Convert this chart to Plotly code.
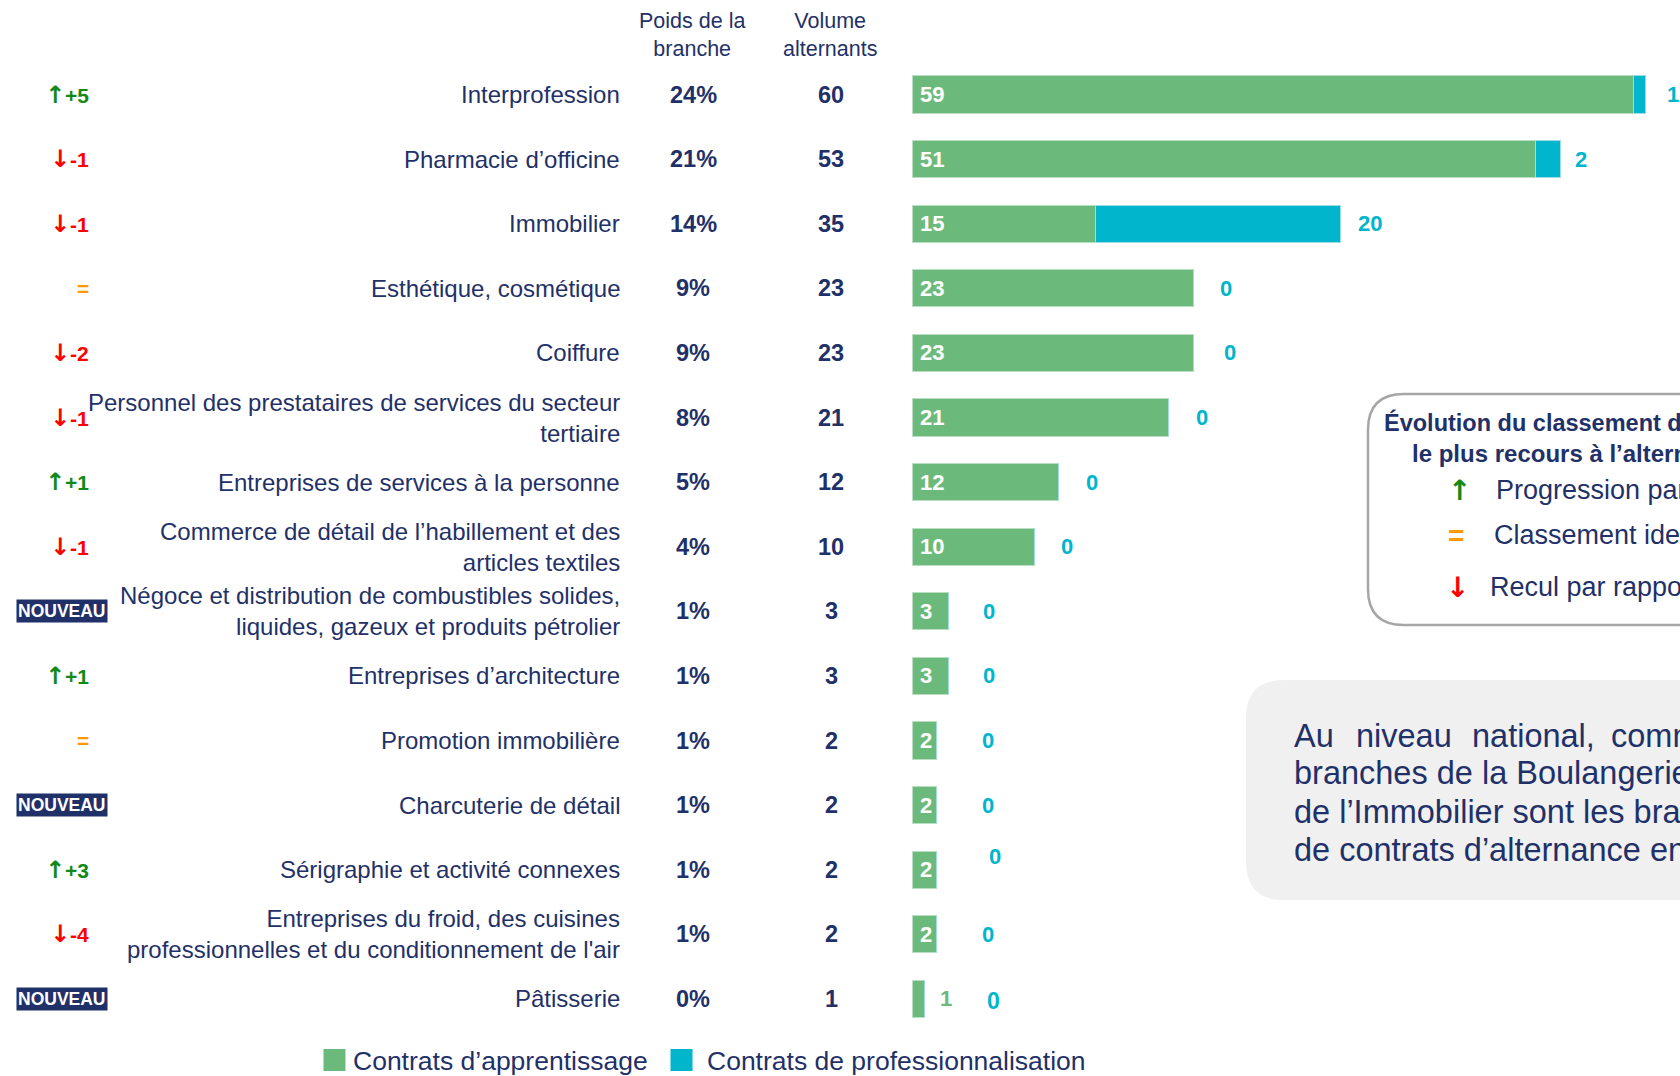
import plotly.graph_objects as go

# ---------------- data ----------------
categories = [
    "Interprofession",
    "Pharmacie d’officine",
    "Immobilier",
    "Esthétique, cosmétique",
    "Coiffure",
    "Personnel des prestataires de services du secteur<br>tertiaire",
    "Entreprises de services à la personne",
    "Commerce de détail de l’habillement et des<br>articles textiles",
    "Négoce et distribution de combustibles solides,<br>liquides, gazeux et produits pétrolier",
    "Entreprises d’architecture",
    "Promotion immobilière",
    "Charcuterie de détail",
    "Sérigraphie et activité connexes",
    "Entreprises du froid, des cuisines<br>professionnelles et du conditionnement de l'air",
    "Pâtisserie",
]
poids_branche = ["24%", "21%", "14%", "9%", "9%", "8%", "5%", "4%", "1%", "1%", "1%", "1%", "1%", "1%", "0%"]
volume_alternants = [60, 53, 35, 23, 23, 21, 12, 10, 3, 3, 2, 2, 2, 2, 1]
contrats_apprentissage = [59, 51, 15, 23, 23, 21, 12, 10, 3, 3, 2, 2, 2, 2, 1]
contrats_professionnalisation = [1, 2, 20, 0, 0, 0, 0, 0, 0, 0, 0, 0, 0, 0, 0]
evolution_classement = ["+5", "-1", "-1", "=", "-2", "-1", "+1", "-1", "NOUVEAU",
                        "+1", "=", "NOUVEAU", "+3", "-4", "NOUVEAU"]
header_poids = "Poids de la<br>branche"
header_volume = "Volume<br>alternants"
legend_names = ["Contrats d’apprentissage", "Contrats de professionnalisation"]
box_title = ["Évolution du classement des branches ayant", "le plus recours à l’alternance"]
box_items = ["Progression par rapport à l’année précédente",
             "Classement identique à l’année précédente",
             "Recul par rapport à l’année précédente"]
comment_line1 = ["Au", "niveau", "national,", "comme"]
comment_lines = ["branches de la Boulangerie",
                 "de l’Immobilier sont les branches",
                 "de contrats d’alternance en"]

# ---------------- style / layout ----------------
W, H = 1680, 1076
FONT = "Liberation Sans, Arial, sans-serif"
ARROW_FONT = "DejaVu Sans, sans-serif"
NAVY = "#1F3168"
GREEN_BAR = "#6BBA7C"
TEAL = "#00B5CC"
UP_GREEN = "#138A17"
DOWN_RED = "#FF0000"
EQ_ORANGE = "#FF9A00"

X0_PX, PX_PER_UNIT = 912.0, 12.23
ROW0_PX, ROW_PX = 94.5, 64.6
# label nudges (pixels) for the professionalisation value labels
pro_label_xshift = [19, 13, 16, 25, 29, 25, 25, 25, 32, 32, 44, 44, 51, 44, 61]
pro_label_yshift = [0, 0, 0, 0, 0, 0, 0, 0, 0, 0, 0, 0, 13, 0, -2]


def px(x):
    return x / W


def py(y):
    return 1 - y / H


fig = go.Figure()
fig.add_bar(
    y=categories, x=contrats_apprentissage, orientation="h", name=legend_names[0],
    marker=dict(color=GREEN_BAR, line=dict(color="#B9DEC1", width=1)),
    width=0.575, showlegend=False, hoverinfo="x+y",
)
fig.add_bar(
    y=categories, x=contrats_professionnalisation, orientation="h", name=legend_names[1],
    marker=dict(color=TEAL, line=dict(color="#9FDDE6", width=1)),
    width=0.575, showlegend=False, hoverinfo="x+y",
)

ann = []
# headers
ann.append(dict(x=px(692), y=py(35), xref="paper", yref="paper", text=header_poids,
                showarrow=False, font=dict(size=21.5, color=NAVY), xanchor="center",
                yanchor="middle", align="center"))
ann.append(dict(x=px(830), y=py(35), xref="paper", yref="paper", text=header_volume,
                showarrow=False, font=dict(size=21.5, color=NAVY), xanchor="center",
                yanchor="middle", align="center"))

for i, cat in enumerate(categories):
    # category label
    ann.append(dict(x=px(621.5), y=cat, xref="paper", yref="y", text=cat, showarrow=False,
                    xanchor="right", yanchor="middle", align="right",
                    font=dict(size=24, color=NAVY)))
    ann.append(dict(x=px(693), y=cat, xref="paper", yref="y", text="<b>%s</b>" % poids_branche[i],
                    showarrow=False, xanchor="center", yanchor="middle",
                    font=dict(size=23.5, color=NAVY)))
    ann.append(dict(x=px(831), y=cat, xref="paper", yref="y", text="<b>%d</b>" % volume_alternants[i],
                    showarrow=False, xanchor="center", yanchor="middle",
                    font=dict(size=23.5, color=NAVY)))
    ev = evolution_classement[i]
    if ev == "NOUVEAU":
        ann.append(dict(x=px(61.5), y=cat, xref="paper", yref="y", text="<b>NOUVEAU</b>",
                        showarrow=False, xanchor="center", yanchor="middle",
                        bgcolor=NAVY, borderpad=1, font=dict(size=17.5, color="white")))
    else:
        if ev.startswith("+"):
            arrow, col = "↑", UP_GREEN
        elif ev.startswith("-"):
            arrow, col = "↓", DOWN_RED
        else:
            arrow, col = "", EQ_ORANGE
        txt = ev
        if arrow:
            txt = '<span style="font-family:DejaVu Sans;font-size:24px">%s</span>' % arrow + txt
        ann.append(dict(x=px(90.5), y=cat, xref="paper", yref="y", text="<b>%s</b>" % txt,
                        showarrow=False, xanchor="right", yanchor="middle",
                        font=dict(size=21, color=col)))
    # apprentissage value
    a = contrats_apprentissage[i]
    if a >= 2:
        ann.append(dict(x=0, y=cat, xref="x", yref="y", text="<b>%d</b>" % a, showarrow=False,
                        xanchor="left", yanchor="middle", xshift=6,
                        font=dict(size=22, color="white")))
    else:
        ann.append(dict(x=a, y=cat, xref="x", yref="y", text="<b>%d</b>" % a, showarrow=False,
                        xanchor="left", yanchor="middle", xshift=14,
                        font=dict(size=22, color=GREEN_BAR)))
    # professionnalisation value
    p = contrats_professionnalisation[i]
    ann.append(dict(x=a + p, y=cat, xref="x", yref="y", text="<b>%d</b>" % p, showarrow=False,
                    xanchor="left", yanchor="middle", xshift=pro_label_xshift[i],
                    yshift=pro_label_yshift[i],
                    font=dict(size=23 if i == len(categories) - 1 else 22, color=TEAL)))

# bottom legend
shapes = []
shapes.append(dict(type="rect", xref="paper", yref="paper", x0=px(323.5), x1=px(345.5),
                   y0=py(1071), y1=py(1049), fillcolor=GREEN_BAR, line=dict(width=0)))
shapes.append(dict(type="rect", xref="paper", yref="paper", x0=px(670.5), x1=px(692.5),
                   y0=py(1071), y1=py(1049), fillcolor=TEAL, line=dict(width=0)))
ann.append(dict(x=px(350.5), y=py(1061), xref="paper", yref="paper", text=legend_names[0],
                showarrow=False, xanchor="left", yanchor="middle",
                font=dict(size=26.5, color=NAVY)))
ann.append(dict(x=px(705), y=py(1061), xref="paper", yref="paper", text=legend_names[1],
                showarrow=False, xanchor="left", yanchor="middle",
                font=dict(size=26.5, color=NAVY)))


def rounded_path(x0, y0, x1, y1, r):
    def P(x, y):
        return "%.5f,%.5f" % (px(x), py(y))
    return ("M %s L %s Q %s %s L %s Q %s %s L %s Q %s %s L %s Q %s %s Z" % (
        P(x0 + r, y0), P(x1 - r, y0), P(x1, y0), P(x1, y0 + r), P(x1, y1 - r),
        P(x1, y1), P(x1 - r, y1), P(x0 + r, y1), P(x0, y1), P(x0, y1 - r),
        P(x0, y0 + r), P(x0, y0), P(x0 + r, y0)))


# legend box (evolution)
shapes.append(dict(type="path", xref="paper", yref="paper",
                   path=rounded_path(1368, 394, 1780, 625, 36),
                   fillcolor="white", line=dict(color="#A6A6A6", width=2.5)))
ann.append(dict(x=px(1382), y=py(423), xref="paper", yref="paper", text="<b>%s</b>" % box_title[0],
                showarrow=False, xanchor="left", yanchor="middle", font=dict(size=23.5, color=NAVY)))
ann.append(dict(x=px(1410), y=py(453), xref="paper", yref="paper", text="<b>%s</b>" % box_title[1],
                showarrow=False, xanchor="left", yanchor="middle", font=dict(size=24, color=NAVY)))
sym = [("↑", UP_GREEN, 1459, 490, ARROW_FONT), ("=", EQ_ORANGE, 1456, 535, FONT),
       ("↓", DOWN_RED, 1457, 587, ARROW_FONT)]
txt_x = [1494, 1492, 1488]
for k, (s, c, sx, sy, f) in enumerate(sym):
    ann.append(dict(x=px(sx), y=py(sy), xref="paper", yref="paper", text="<b>%s</b>" % s,
                    showarrow=False, xanchor="center", yanchor="middle",
                    font=dict(size=28, color=c, family=f)))
    ann.append(dict(x=px(txt_x[k]), y=py(sy), xref="paper", yref="paper", text=box_items[k],
                    showarrow=False, xanchor="left", yanchor="middle",
                    font=dict(size=27, color=NAVY)))

# comment box
shapes.append(dict(type="path", xref="paper", yref="paper",
                   path=rounded_path(1246, 680, 1780, 900, 38),
                   fillcolor="#F0F0F0", line=dict(width=0)))
for wx, w in zip([1292, 1354, 1470, 1609], comment_line1):
    ann.append(dict(x=px(wx), y=py(736), xref="paper", yref="paper", text=w, showarrow=False,
                    xanchor="left", yanchor="middle", font=dict(size=32.5, color=NAVY)))
for ly, line in zip([773, 812, 850], comment_lines):
    ann.append(dict(x=px(1292), y=py(ly), xref="paper", yref="paper", text=line, showarrow=False,
                    xanchor="left", yanchor="middle", font=dict(size=32.5, color=NAVY)))

fig.update_layout(
    width=W, height=H, margin=dict(l=0, r=0, t=0, b=0),
    paper_bgcolor="white", plot_bgcolor="white",
    barmode="stack", bargap=0.4, showlegend=False,
    font=dict(family=FONT, color=NAVY),
    xaxis=dict(range=[-X0_PX / PX_PER_UNIT, (W - X0_PX) / PX_PER_UNIT], visible=False,
               domain=[0, 1], fixedrange=True),
    yaxis=dict(range=[(H - ROW0_PX) / ROW_PX, -ROW0_PX / ROW_PX], visible=False,
               domain=[0, 1], type="category", categoryorder="array",
               categoryarray=categories, fixedrange=True),
    annotations=ann, shapes=shapes,
)

fig.write_html(
    "out.html",
    config={"displayModeBar": False},
    post_script="document.body.style.margin='0';document.body.style.overflow='hidden';",
)
